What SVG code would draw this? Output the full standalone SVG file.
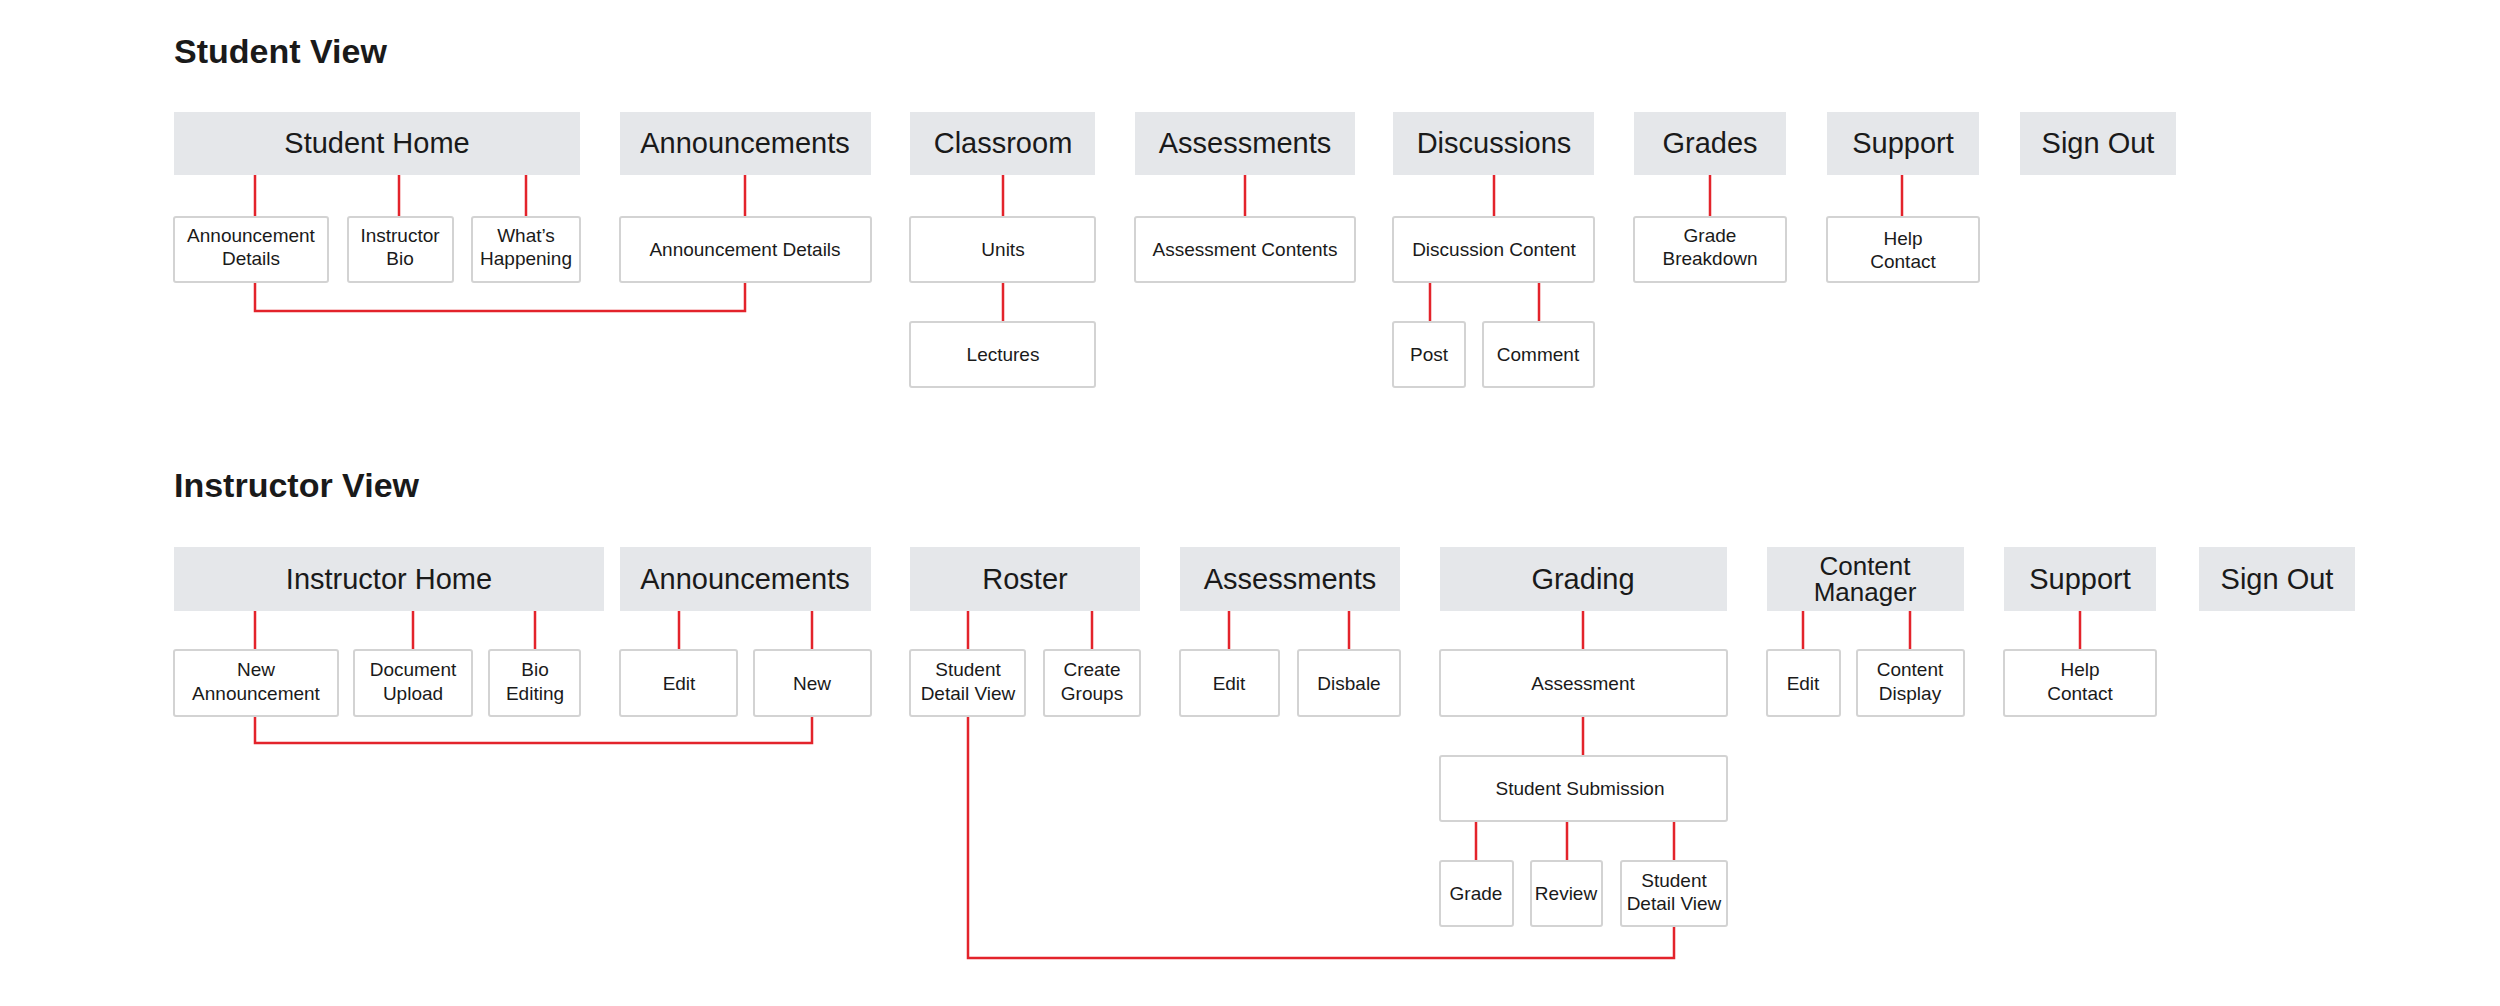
<svg xmlns="http://www.w3.org/2000/svg" width="2500" height="1006" viewBox="0 0 2500 1006">
<style>
.h{fill:#e5e7ea}
.c{fill:#fff;stroke:#d3d3d3;stroke-width:2}
text{font-family:"Liberation Sans",Arial,sans-serif;fill:#1a1a1a;text-anchor:middle}
.t{font-size:34px;font-weight:bold;text-anchor:start}
.ht{font-size:29px}
.hs{font-size:26px}
.ct{font-size:19px}
.l{fill:none;stroke:#e3232b;stroke-width:2.5}
</style>
<rect width="2500" height="1006" fill="#fff"/>
<text class="t" x="174" y="63">Student View</text>
<text class="t" x="174" y="497">Instructor View</text>
<g id="connectors" class="l">
<path d="M255 175V217M399 175V217M526 175V217M745 175V217M255 282V311H745V282"/>
<path d="M1003 175V217M1003 282V322M1245 175V217M1494 175V217M1430 282V322M1539 282V322M1710 175V217M1902 175V217"/>
<path d="M255 611V650M413 611V650M535 611V650M679 611V650M812 611V650M255 716V743H812V716"/>
<path d="M968 611V650M1092 611V650M1229 611V650M1349 611V650M1583 611V650M1583 716V756M1476 821V861M1567 821V861M1674 821V861M968 716V958H1674V926"/>
<path d="M1803 611V650M1910 611V650M2080 611V650"/>
</g>
<g id="sh"><rect class="h" x="174" y="112" width="406" height="63"/><text class="ht" x="377" y="153">Student Home</text></g>
<g id="sa"><rect class="h" x="620" y="112" width="251" height="63"/><text class="ht" x="745" y="153">Announcements</text></g>
<g id="sc"><rect class="h" x="910" y="112" width="185" height="63"/><text class="ht" x="1003" y="153">Classroom</text></g>
<g id="sas"><rect class="h" x="1135" y="112" width="220" height="63"/><text class="ht" x="1245" y="153">Assessments</text></g>
<g id="sd"><rect class="h" x="1393" y="112" width="201" height="63"/><text class="ht" x="1494" y="153">Discussions</text></g>
<g id="sg"><rect class="h" x="1634" y="112" width="152" height="63"/><text class="ht" x="1710" y="153">Grades</text></g>
<g id="ss"><rect class="h" x="1827" y="112" width="152" height="63"/><text class="ht" x="1903" y="153">Support</text></g>
<g id="so"><rect class="h" x="2020" y="112" width="156" height="63"/><text class="ht" x="2098" y="153">Sign Out</text></g>
<g id="s1"><rect class="c" x="174" y="217" width="154" height="65" rx="2"/><text class="ct" x="251" y="242">Announcement</text><text class="ct" x="251" y="265">Details</text></g>
<g id="s2"><rect class="c" x="348" y="217" width="105" height="65" rx="2"/><text class="ct" x="400" y="242">Instructor</text><text class="ct" x="400" y="265">Bio</text></g>
<g id="s3"><rect class="c" x="472" y="217" width="108" height="65" rx="2"/><text class="ct" x="526" y="242">What’s</text><text class="ct" x="526" y="265">Happening</text></g>
<g id="s4"><rect class="c" x="620" y="217" width="251" height="65" rx="2"/><text class="ct" x="745" y="256">Announcement Details</text></g>
<g id="s5"><rect class="c" x="910" y="217" width="185" height="65" rx="2"/><text class="ct" x="1003" y="256">Units</text></g>
<g id="s6"><rect class="c" x="910" y="322" width="185" height="65" rx="2"/><text class="ct" x="1003" y="361">Lectures</text></g>
<g id="s7"><rect class="c" x="1135" y="217" width="220" height="65" rx="2"/><text class="ct" x="1245" y="256">Assessment Contents</text></g>
<g id="s8"><rect class="c" x="1393" y="217" width="201" height="65" rx="2"/><text class="ct" x="1494" y="256">Discussion Content</text></g>
<g id="s9"><rect class="c" x="1393" y="322" width="72" height="65" rx="2"/><text class="ct" x="1429" y="361">Post</text></g>
<g id="s10"><rect class="c" x="1483" y="322" width="111" height="65" rx="2"/><text class="ct" x="1538" y="361">Comment</text></g>
<g id="s11"><rect class="c" x="1634" y="217" width="152" height="65" rx="2"/><text class="ct" x="1710" y="242">Grade</text><text class="ct" x="1710" y="265">Breakdown</text></g>
<g id="s12"><rect class="c" x="1827" y="217" width="152" height="65" rx="2"/><text class="ct" x="1903" y="245">Help</text><text class="ct" x="1903" y="268">Contact</text></g>
<g id="ih"><rect class="h" x="174" y="547" width="430" height="64"/><text class="ht" x="389" y="589">Instructor Home</text></g>
<g id="ia"><rect class="h" x="620" y="547" width="251" height="64"/><text class="ht" x="745" y="589">Announcements</text></g>
<g id="ir"><rect class="h" x="910" y="547" width="230" height="64"/><text class="ht" x="1025" y="589">Roster</text></g>
<g id="ias"><rect class="h" x="1180" y="547" width="220" height="64"/><text class="ht" x="1290" y="589">Assessments</text></g>
<g id="ig"><rect class="h" x="1440" y="547" width="287" height="64"/><text class="ht" x="1583" y="589">Grading</text></g>
<g id="icm"><rect class="h" x="1767" y="547" width="197" height="64"/><text class="hs" x="1865" y="575">Content</text><text class="hs" x="1865" y="601">Manager</text></g>
<g id="is"><rect class="h" x="2004" y="547" width="152" height="64"/><text class="ht" x="2080" y="589">Support</text></g>
<g id="io"><rect class="h" x="2199" y="547" width="156" height="64"/><text class="ht" x="2277" y="589">Sign Out</text></g>
<g id="i1"><rect class="c" x="174" y="650" width="164" height="66" rx="2"/><text class="ct" x="256" y="676">New</text><text class="ct" x="256" y="700">Announcement</text></g>
<g id="i2"><rect class="c" x="354" y="650" width="118" height="66" rx="2"/><text class="ct" x="413" y="676">Document</text><text class="ct" x="413" y="700">Upload</text></g>
<g id="i3"><rect class="c" x="489" y="650" width="91" height="66" rx="2"/><text class="ct" x="535" y="676">Bio</text><text class="ct" x="535" y="700">Editing</text></g>
<g id="i4"><rect class="c" x="620" y="650" width="117" height="66" rx="2"/><text class="ct" x="679" y="690">Edit</text></g>
<g id="i5"><rect class="c" x="754" y="650" width="117" height="66" rx="2"/><text class="ct" x="812" y="690">New</text></g>
<g id="i6"><rect class="c" x="910" y="650" width="115" height="66" rx="2"/><text class="ct" x="968" y="676">Student</text><text class="ct" x="968" y="700">Detail View</text></g>
<g id="i7"><rect class="c" x="1044" y="650" width="96" height="66" rx="2"/><text class="ct" x="1092" y="676">Create</text><text class="ct" x="1092" y="700">Groups</text></g>
<g id="i8"><rect class="c" x="1180" y="650" width="99" height="66" rx="2"/><text class="ct" x="1229" y="690">Edit</text></g>
<g id="i9"><rect class="c" x="1298" y="650" width="102" height="66" rx="2"/><text class="ct" x="1349" y="690">Disbale</text></g>
<g id="i10"><rect class="c" x="1440" y="650" width="287" height="66" rx="2"/><text class="ct" x="1583" y="690">Assessment</text></g>
<g id="i11"><rect class="c" x="1440" y="756" width="287" height="65" rx="2"/><text class="ct" x="1580" y="795">Student Submission</text></g>
<g id="i12"><rect class="c" x="1440" y="861" width="73" height="65" rx="2"/><text class="ct" x="1476" y="900">Grade</text></g>
<g id="i13"><rect class="c" x="1531" y="861" width="71" height="65" rx="2"/><text class="ct" x="1566" y="900">Review</text></g>
<g id="i14"><rect class="c" x="1621" y="861" width="106" height="65" rx="2"/><text class="ct" x="1674" y="887">Student</text><text class="ct" x="1674" y="910">Detail View</text></g>
<g id="i15"><rect class="c" x="1767" y="650" width="73" height="66" rx="2"/><text class="ct" x="1803" y="690">Edit</text></g>
<g id="i16"><rect class="c" x="1857" y="650" width="107" height="66" rx="2"/><text class="ct" x="1910" y="676">Content</text><text class="ct" x="1910" y="700">Display</text></g>
<g id="i17"><rect class="c" x="2004" y="650" width="152" height="66" rx="2"/><text class="ct" x="2080" y="676">Help</text><text class="ct" x="2080" y="700">Contact</text></g>
</svg>
